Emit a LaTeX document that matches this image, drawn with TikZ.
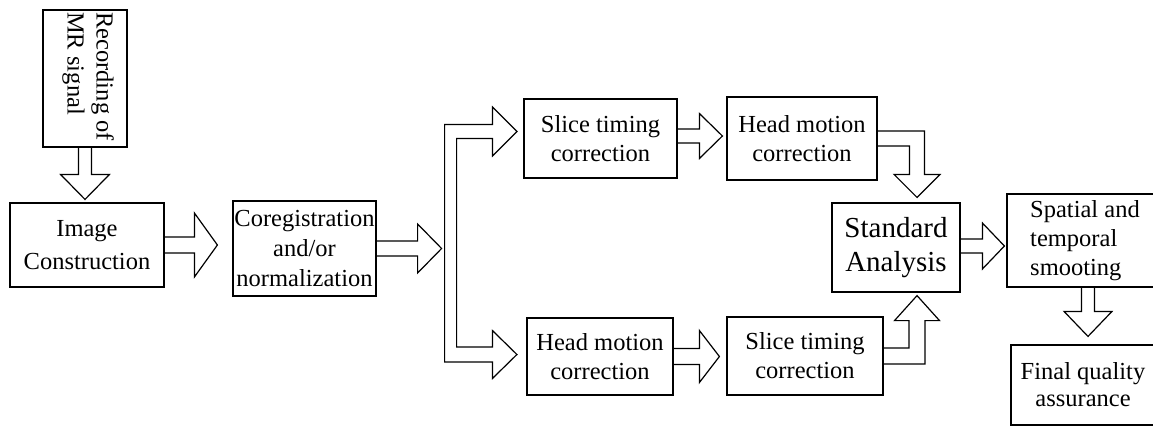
\documentclass[tikz,border=0pt]{standalone}
\usepackage{fontspec}
\setmainfont{Liberation Serif}
\usetikzlibrary{calc}

% block arrows: start, tip, shaft half width, head half width, head length
\newcommand\rarrow[5]{%
  \draw[blk] ($(#1)+(0,-#3)$) -- ($(#2)+(-#5,-#3)$) -- ($(#2)+(-#5,-#4)$) -- (#2)
    -- ($(#2)+(-#5,#4)$) -- ($(#2)+(-#5,#3)$) -- ($(#1)+(0,#3)$);}
\newcommand\darrow[5]{%
  \draw[blk] ($(#1)+(-#3,0)$) -- ($(#2)+(-#3,-#5)$) -- ($(#2)+(-#4,-#5)$) -- (#2)
    -- ($(#2)+(#4,-#5)$) -- ($(#2)+(#3,-#5)$) -- ($(#1)+(#3,0)$);}

\begin{document}
\begin{tikzpicture}[x=1pt,y=-1pt,
  box/.style={draw, line width=1.2pt, inner sep=0pt, align=center,
    font=\fontsize{24.5}{29}\selectfont},
  blk/.style={draw, line width=1.2pt, line join=miter}]
\fill[white] (0,0) rectangle (1153,426);
\useasboundingbox (0,0) rectangle (1153,426);

% boxes
\node[box, minimum width=84pt, minimum height=137pt] (rec) at (85,78.5) {};
\node[rotate=-90, anchor=west, inner sep=0pt, align=left,
  font=\fontsize{24.5}{29}\selectfont] (rectxt) at (88,12) {Recording of\\MR signal};
\node[box, minimum width=154pt, minimum height=84pt,
  font=\fontsize{24.5}{33}\selectfont] (img) at (87,245) {Image\\Construction};
\node[box, minimum width=143pt, minimum height=95pt,
  font=\fontsize{24.5}{30}\selectfont] (coreg) at (304.5,248.5) {Coregistration\\and/or\\normalization};
\node[box, minimum width=153pt, minimum height=79pt] (st1) at (600.5,138.5) {Slice timing\\correction};
\node[box, minimum width=150pt, minimum height=83pt] (hm1) at (802,138.5) {Head motion\\correction};
\node[box, minimum width=128pt, minimum height=89pt,
  font=\fontsize{29}{34}\selectfont] (sa) at (896,247.5) {Standard\\Analysis};
\node[box, minimum width=146pt, minimum height=77pt] (hm2) at (600,356.5) {Head motion\\correction};
\node[box, minimum width=156pt, minimum height=78pt] (st2) at (805,356) {Slice timing\\correction};
\node[box, align=left, minimum width=156pt, minimum height=93pt] (sp) at (1085,240.5) {Spatial and\\temporal\\smooting};
\node[box, minimum width=144pt, minimum height=80pt, font=\fontsize{24.5}{27}\selectfont] (fq) at (1083,385) {Final quality\\assurance};

% straight block arrows
\coordinate (a1t) at ($(rec.south |- img.north)+(0,-3)$);
\darrow{rec.south}{a1t}{6.5}{24.5}{25}
\coordinate (a2t) at ($(img.east -| coreg.west)+(-15,0)$);
\rarrow{img.east}{a2t}{8}{32}{23}
\coordinate (a3t) at ($(coreg.east)+(65,0)$);
\rarrow{coreg.east}{a3t}{7.5}{24.5}{24}

% split into the two branches
\coordinate (sx) at ($(a3t)+(3,0)$);
\coordinate (t1) at ($(st1.west)+(-6.5,-7)$);
\coordinate (t2) at ($(hm2.west)+(-9.5,-2)$);
\draw[blk] let \p1=(t1), \p2=(t2), \p3=(sx) in
  (\x1-24.5pt,\y1+7pt) -- (\x3,\y1+7pt) -- (\x3,\y2-7.5pt) -- (\x1-24.5pt,\y2-7.5pt)
  -- (\x1-24.5pt,\y2-24pt) -- (\x2,\y2) -- (\x1-24.5pt,\y2+24pt) -- (\x1-24.5pt,\y2+7.5pt)
  -- (\x3+12pt,\y2+7.5pt) -- (\x3+12pt,\y1-7pt) -- (\x1-24.5pt,\y1-7pt)
  -- (\x1-24.5pt,\y1-24.5pt) -- (\x1,\y1) -- (\x1-24.5pt,\y1+24.5pt) -- cycle;

% upper branch
\coordinate (a4s) at ($(st1.east)+(0,-2.5)$);
\coordinate (a4t) at ($(st1.east -| hm1.west)+(-4,-2.5)$);
\rarrow{a4s}{a4t}{7}{22.5}{23}
\coordinate (a5t) at ($(sa.north)+(21,-5)$);
\coordinate (a5c) at (a5t |- hm1.east);
\draw[blk] ($(hm1.east)+(0,-7.5)$) -- ($(a5c)+(7.5,-7.5)$) -- ($(a5t)+(7.5,-23)$)
  -- ($(a5t)+(23,-23)$) -- (a5t) -- ($(a5t)+(-23,-23)$) -- ($(a5t)+(-7.5,-23)$)
  -- ($(a5c)+(-7.5,7.5)$) -- ($(hm1.east)+(0,7.5)$);

% lower branch
\coordinate (a6t) at ($(hm2.east -| st2.west)+(-7,0)$);
\rarrow{hm2.east}{a6t}{8}{26}{20}
\coordinate (a7t) at ($(sa.south)+(21,3)$);
\coordinate (a7c) at (a7t |- st2.east);
\draw[blk] ($(st2.east)+(0,-8)$) -- ($(a7c)+(-8,-8)$) -- ($(a7t)+(-8,25)$)
  -- ($(a7t)+(-22.5,25)$) -- (a7t) -- ($(a7t)+(22.5,25)$) -- ($(a7t)+(8,25)$)
  -- ($(a7c)+(8,8)$) -- ($(st2.east)+(0,8)$);

% final stages
\coordinate (a8s) at ($(sa.east)+(0,-1.5)$);
\coordinate (a8t) at ($(sa.east -| sp.west)+(-2,-1.5)$);
\rarrow{a8s}{a8t}{7}{23}{22}
\coordinate (a9s) at ($(sp.south)+(3,0)$);
\coordinate (a9t) at ($(sp.south |- fq.north)+(3,-8)$);
\darrow{a9s}{a9t}{6.5}{24}{25}
\end{tikzpicture}
\end{document}
